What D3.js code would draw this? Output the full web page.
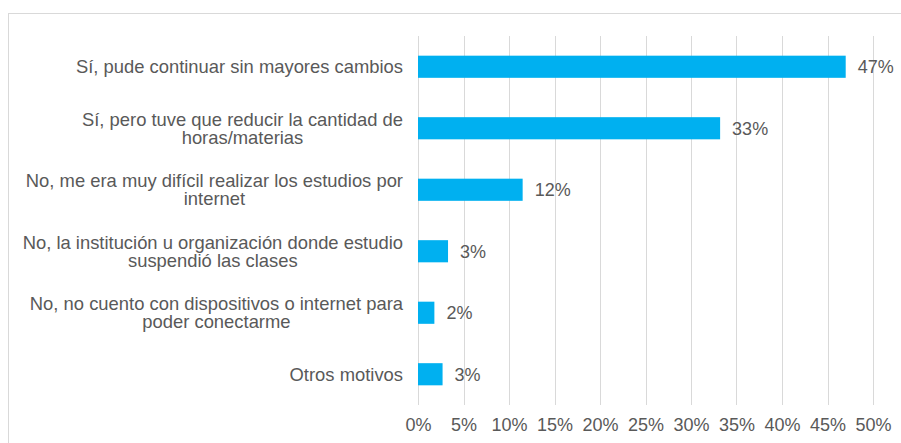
<!DOCTYPE html>
<html>
<head>
<meta charset="utf-8">
<script src="https://cdn.jsdelivr.net/npm/d3@7"></script>
<style>
  body { margin: 0; background: #fff; }
  text { font-family: "Liberation Sans", Arial, sans-serif; fill: #595959; }
</style>
</head>
<body>
<div id="chart"></div>
<script>
// datos
const categorias = [
  ["Sí, pude continuar sin mayores cambios"],
  ["Sí, pero tuve que reducir la cantidad de", "horas/materias"],
  ["No, me era muy difícil realizar los estudios por", "internet"],
  ["No, la institución u organización donde estudio", "suspendió las clases"],
  ["No, no cuento con dispositivos o internet para", "poder conectarme"],
  ["Otros motivos"]
]
const valores = [0.47, 0.332, 0.115, 0.033, 0.018, 0.027]
const etiquetas = ["47%", "33%", "12%", "3%", "2%", "3%"]
const ticks = [0, 0.05, 0.10, 0.15, 0.20, 0.25, 0.30, 0.35, 0.40, 0.45, 0.50]

const width = 901
const height = 443
const margin = { top: 36, right: 28, bottom: 38, left: 418 }
const fontSize = 18
const catFontSize = 18.4

const svg = d3.select("div#chart")
  .append("svg")
  .attr("width", width)
  .attr("height", height)

// marco
svg.append("rect")
  .attr("x", 8.5).attr("y", 13.5)
  .attr("width", 920).attr("height", 460)
  .attr("fill", "none")
  .attr("stroke", "#d9d9d9")

const idx = categorias.map((d, i) => i)

const x = d3.scaleLinear()
  .domain([0, 0.5])
  .range([margin.left, width - margin.right])
const y = d3.scaleBand()
  .domain(idx)
  .range([margin.top, height - margin.bottom])
  .paddingInner(0.64)
  .paddingOuter(0.32)

// rejilla
svg.append("g")
  .selectAll("line")
  .data(ticks)
  .join("line")
  .attr("x1", d => Math.round(x(d)) + 0.5)
  .attr("x2", d => Math.round(x(d)) + 0.5)
  .attr("y1", margin.top)
  .attr("y2", height - margin.bottom)
  .attr("stroke", "#d9d9d9")

// eje x
const xAxis = d3.axisBottom(x)
  .tickValues(ticks)
  .tickFormat(d3.format(".0%"))
  .tickSize(0)
  .tickPadding(13)
const xAxisGroup = svg.append("g")
  .attr("transform", `translate(0,${height - margin.bottom})`)
  .call(xAxis)
xAxisGroup.select(".domain").remove()
xAxisGroup.selectAll("text")
  .attr("font-size", fontSize)
  .style("font-family", "'Liberation Sans', Arial, sans-serif")
  .attr("fill", "#595959")

// barras
svg.append("g")
  .selectAll("rect")
  .data(valores)
  .join("rect")
  .attr("x", x(0))
  .attr("y", (d, i) => y(i))
  .attr("width", d => x(d) - x(0))
  .attr("height", y.bandwidth())
  .attr("fill", "#00b0f0")

// etiquetas de valor
svg.append("g")
  .selectAll("text")
  .data(valores)
  .join("text")
  .attr("x", d => x(d) + 12)
  .attr("y", (d, i) => y(i) + y.bandwidth() / 2)
  .attr("dy", "0.35em")
  .attr("font-size", fontSize)
  .text((d, i) => etiquetas[i])

// etiquetas de categoría (multilínea, centradas como en Excel)
const labelRight = margin.left - 15
const lineH = 18
const catG = svg.append("g")
categorias.forEach((lines, i) => {
  const cy = y(i) + y.bandwidth() / 2
  const t = catG.append("text")
    .attr("font-size", catFontSize)
    .attr("text-anchor", "middle")
  lines.forEach((l, j) => {
    t.append("tspan")
      .attr("y", cy + (j - (lines.length - 1) / 2) * lineH)
      .attr("dy", "0.35em")
      .text(l)
  })
  // ancho de la línea más larga para alinear a la derecha
  const w = d3.max(t.selectAll("tspan").nodes(), n => n.getComputedTextLength())
  t.selectAll("tspan").attr("x", labelRight - w / 2)
})
</script>
</body>
</html>
